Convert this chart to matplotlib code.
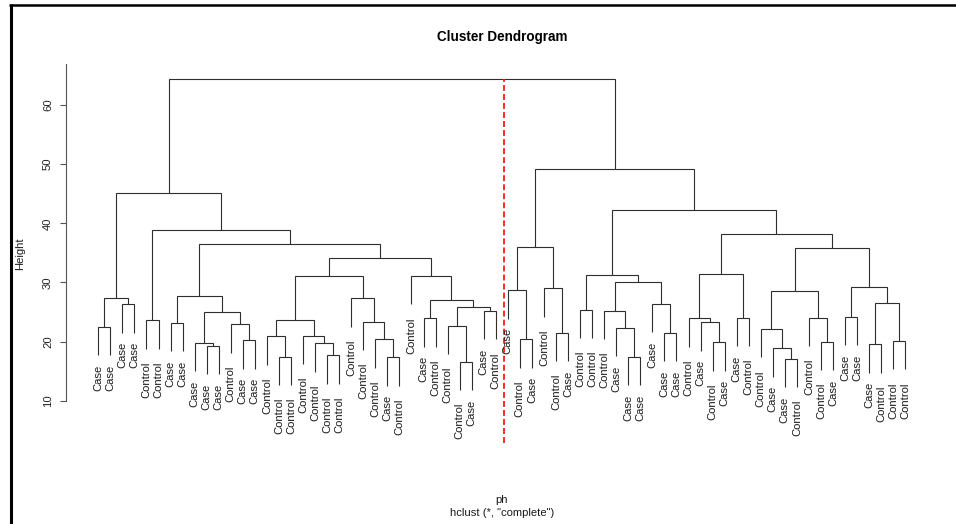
import matplotlib
matplotlib.use("Agg")
import matplotlib.pyplot as plt
from matplotlib.collections import LineCollection
from matplotlib.lines import Line2D
from matplotlib.transforms import offset_copy

plt.rcParams['font.family'] = ['Liberation Sans', 'DejaVu Sans']
plt.rcParams['lines.scale_dashes'] = False

# ---------------- data ----------------
labels = [
    "Case", "Case", "Case", "Case", "Control", "Control", "Case", "Case",
    "Case", "Case", "Case", "Control", "Case", "Case", "Control", "Control",
    "Control", "Control", "Control", "Control", "Control", "Control", "Control", "Control",
    "Case", "Control", "Control", "Case", "Control", "Control", "Control", "Case",
    "Case", "Control", "Case", "Control", "Case", "Control", "Control", "Case",
    "Control", "Control", "Control", "Case", "Case", "Case", "Case", "Case",
    "Case", "Control", "Case", "Control", "Case", "Case", "Control", "Control",
    "Case", "Case", "Control", "Control", "Control", "Case", "Case", "Case",
    "Case", "Control", "Control", "Control",
]

# hclust-style merge table: negative = leaf (1-based, in plotted order),
# positive = index of an earlier merge (1-based)
merge_a = [-1, -3, 1, -5, -7, -10, -9, -13, -12, 7, 5, -16, -15, -20, -19, -18, 13,
           -25, -24, -23, -22, 17, -28, -31, -30, -33, 25, 23, -27, 22, 11, 4, 3,
           -36, -35, -39, -38, 35, -41, -45, -44, -43, -48, -47, 42, 39,
           -52, -51, -50, -54, 49, -58, -57, -56, -61, -60, 54, -63, -65, -67, 59, 58,
           57, 51, 46, 38, 33]
merge_b = [-2, -4, 2, -6, -8, -11, 6, -14, 8, 9, 10, -17, 12, -21, 14, 15, 16,
           -26, 18, 19, 20, 21, -29, -32, 24, -34, 26, 27, 28, 29, 30, 31, 32,
           -37, 34, -40, 36, 37, -42, -46, 40, 41, -49, 43, 44, 45,
           -53, 47, 48, -55, 50, -59, 52, 53, -62, 55, 56, -64, -66, -68, 60, 61,
           62, 63, 64, 65, 66]
merge_height = [22.51, 26.30, 27.37, 23.60, 23.19, 19.30, 19.81, 20.21, 22.92, 24.95, 27.75,
                17.44, 20.89, 17.68, 19.71, 20.99, 23.70,
                17.34, 20.38, 23.36, 27.31, 31.09, 23.93, 16.59, 22.68, 25.17, 25.79, 27.03,
                31.09, 34.08, 36.50, 38.91, 45.17,
                20.38, 28.67, 21.50, 29.00, 35.94, 25.39, 17.44, 22.34, 25.22, 21.50, 26.40,
                30.02, 31.25,
                19.87, 23.26, 23.93, 24.03, 31.42, 17.10, 18.86, 22.12, 19.98, 24.03, 28.55,
                24.20, 19.54, 20.09, 26.47, 29.17, 35.87, 38.14, 42.19, 49.13, 64.35]

yticks = [10, 20, 30, 40, 50, 60]
ylim = (2.80, 66.93)
cut_x = 34.65
hang = 0.1

title = "Cluster Dendrogram"
xlab = "ph"
sub = 'hclust (*, "complete")'
ylab = "Height"

# ---------------- figure ----------------
W, H = 956, 524
fig = plt.figure(figsize=(W / 100, H / 100), dpi=100)
L, R, T, B = 66.0, 937.6, 64.0, 443.3
ax = fig.add_axes([L / W, 1 - B / H, (R - L) / W, (B - T) / H])
n = len(labels)
ax.set_xlim(1 - 0.04 * (n - 1), n + 0.04 * (n - 1))
ax.set_ylim(*ylim)

hr = hang * (max(merge_height) - min(merge_height))
pos = {}
leaf_bottom = {}
segs = []
for i, (a, b, h) in enumerate(zip(merge_a, merge_b, merge_height), start=1):
    pts = []
    for c in (a, b):
        if c < 0:
            x = float(-c)
            y0 = h - hr
            leaf_bottom[-c] = y0
        else:
            x, y0 = pos[c]
        pts.append((x, y0))
    (xa, ya), (xb, yb) = pts
    segs.append([(xa, ya), (xa, h), (xb, h), (xb, yb)])
    pos[i] = ((xa + xb) / 2.0, h)

lc = LineCollection(segs, colors='#2e2e2e', linewidths=0.8, capstyle='butt',
                    joinstyle='miter')
ax.add_collection(lc)

gap_px = {"Case": 9.5, "Control": 13.0}
for i, lab in enumerate(labels, start=1):
    tr = offset_copy(ax.transData, fig=fig, x=0, y=-gap_px[lab], units='dots')
    ax.text(i, leaf_bottom[i], lab, rotation=90, ha='center', va='top',
            fontsize=8.1, color='#1a1a1a', transform=tr, clip_on=False)

# red dashed cut line
ax.plot([cut_x, cut_x], [ylim[0], max(merge_height)], color='#ff1a1a',
        lw=1.3, dashes=(4.3, 2.2))

# axes styling
for s in ('top', 'right', 'bottom'):
    ax.spines[s].set_visible(False)
ax.spines['left'].set_bounds(yticks[0], ylim[1])
ax.spines['left'].set_color('#555555')
ax.spines['left'].set_linewidth(0.8)
ax.set_xticks([])
ax.set_yticks(yticks)
ax.set_yticklabels([str(v) for v in yticks])
ax.tick_params(axis='y', length=4.3, width=0.8, color='#555555', labelsize=8.1,
               labelcolor='#222222', labelrotation=90, pad=5.0)
for t in ax.get_yticklabels():
    t.set_va('center')

fig.text(20 / W, 1 - (T + B) / 2 / H, ylab, rotation=90, ha='center', va='center',
         fontsize=8.1, color='#1a1a1a')
cx = (L + R) / 2 / W
fig.text(cx, 1 - 40.7 / H, title, ha='center', va='baseline', fontsize=9.72,
         fontweight='bold', color='black')
fig.text(cx, 1 - 503.3 / H, xlab, ha='center', va='baseline', fontsize=8.1,
         color='#1a1a1a')
fig.text(cx, 1 - 516.0 / H, sub, ha='center', va='baseline', fontsize=8.1,
         color='#1a1a1a')

# screenshot frame (left and top)
fig.add_artist(Line2D([10.6 / W, 10.6 / W], [0, 1 - 3.5 / H], transform=fig.transFigure,
                      color='black', lw=2.2, solid_capstyle='butt'))
fig.add_artist(Line2D([9.1 / W, 1], [1 - 4.5 / H, 1 - 4.5 / H], transform=fig.transFigure,
                      color='black', lw=1.8, solid_capstyle='butt'))

fig.savefig("out.png", dpi=100)
